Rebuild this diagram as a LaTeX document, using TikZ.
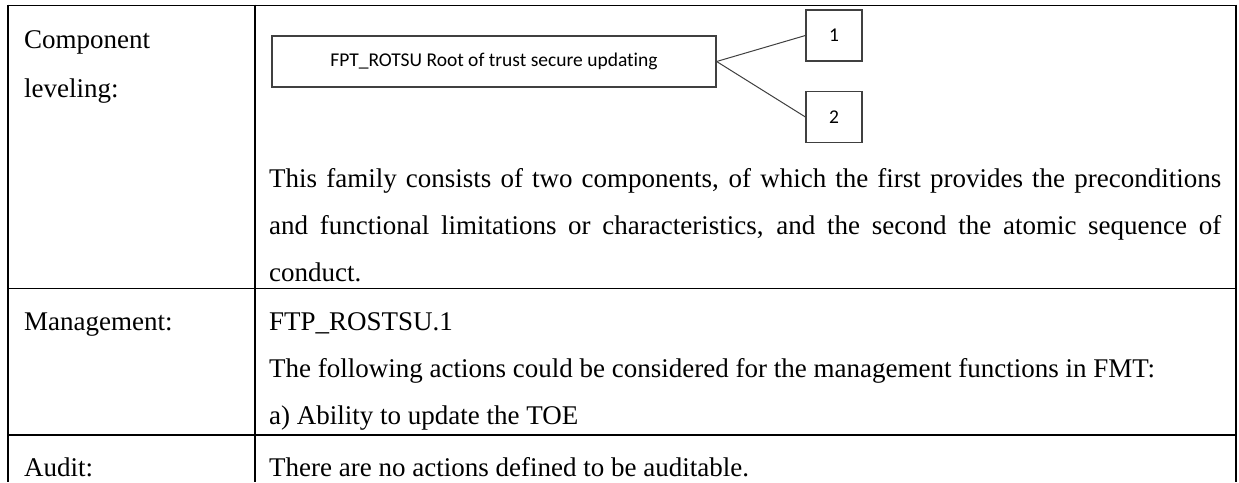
\documentclass[tikz,border=0pt]{standalone}
\usepackage{fontspec}
\setmainfont[Ligatures=CommonOff]{Liberation Serif}
\newfontfamily\boxfont[Ligatures=CommonOff]{Carlito}

% a line spread to the full width of the right column
\newcommand{\justline}[1]{\makebox[952pt][s]{#1}}

\tikzset{
  rule/.style={line width=1.8pt, black},
  celltext/.style={anchor=base west, inner sep=0pt,
    font=\fontsize{27}{32}\selectfont},
  familybox/.style={draw=black!75, line width=1.2pt, inner sep=0pt,
    minimum width=444pt, minimum height=51pt,
    font=\boxfont\fontsize{19.5}{22}\selectfont},
  levelbox/.style={draw=black!75, line width=1.2pt, inner sep=0pt,
    minimum width=56pt, minimum height=51pt,
    font=\boxfont\fontsize{19.5}{22}\selectfont},
  link/.style={draw=black!75, line width=1pt}
}

\begin{document}
\begin{tikzpicture}[x=1pt,y=-1pt]
  \useasboundingbox (0,0) rectangle (1239,482);

  % table rules
  \draw[rule] (8,5.5) -- (1236,5.5);
  \draw[rule] (8,288.5) -- (1236,288.5);
  \draw[rule] (8,435) -- (1236,435);
  \draw[rule] (8,4.6) -- (8,482);
  \draw[rule] (255,4.6) -- (255,482);
  \draw[rule] (1236,4.6) -- (1236,482);

  % component leveling diagram
  \node[familybox] (fam) at (494,61.5) {FPT\_ROTSU Root of trust secure updating};
  \node[levelbox] (lv1) at (834,35.5) {1};
  \node[levelbox] (lv2) at (834,117) {2};
  \draw[link] (fam.east) -- (lv1.west);
  \draw[link] (fam.east) -- (lv2.west);

  % left column
  \node[celltext] (c1a) at (24,48.5) {Component};
  \node[celltext] (c1b) at (24,97) {leveling:};
  \node[celltext] (c2) at (24,330) {Management:};
  \node[celltext] (c3) at (24,476) {Audit:};

  % right column
  \node[celltext] (r1a) at (269,187) {\justline{This family consists of two components, of which the first provides the preconditions}};
  \node[celltext] (r1b) at (269,234) {\justline{and functional limitations or characteristics, and the second the atomic sequence of}};
  \node[celltext] (r1c) at (269,281.5) {conduct.};
  \node[celltext] (r2a) at (269,330) {FTP\_ROSTSU.1};
  \node[celltext] (r2b) at (269,377) {The following actions could be considered for the management functions in FMT:};
  \node[celltext] (r2c) at (269,424) {a) Ability to update the TOE};
  \node[celltext] (r3) at (269,476) {There are no actions defined to be auditable.};
\end{tikzpicture}
\end{document}
